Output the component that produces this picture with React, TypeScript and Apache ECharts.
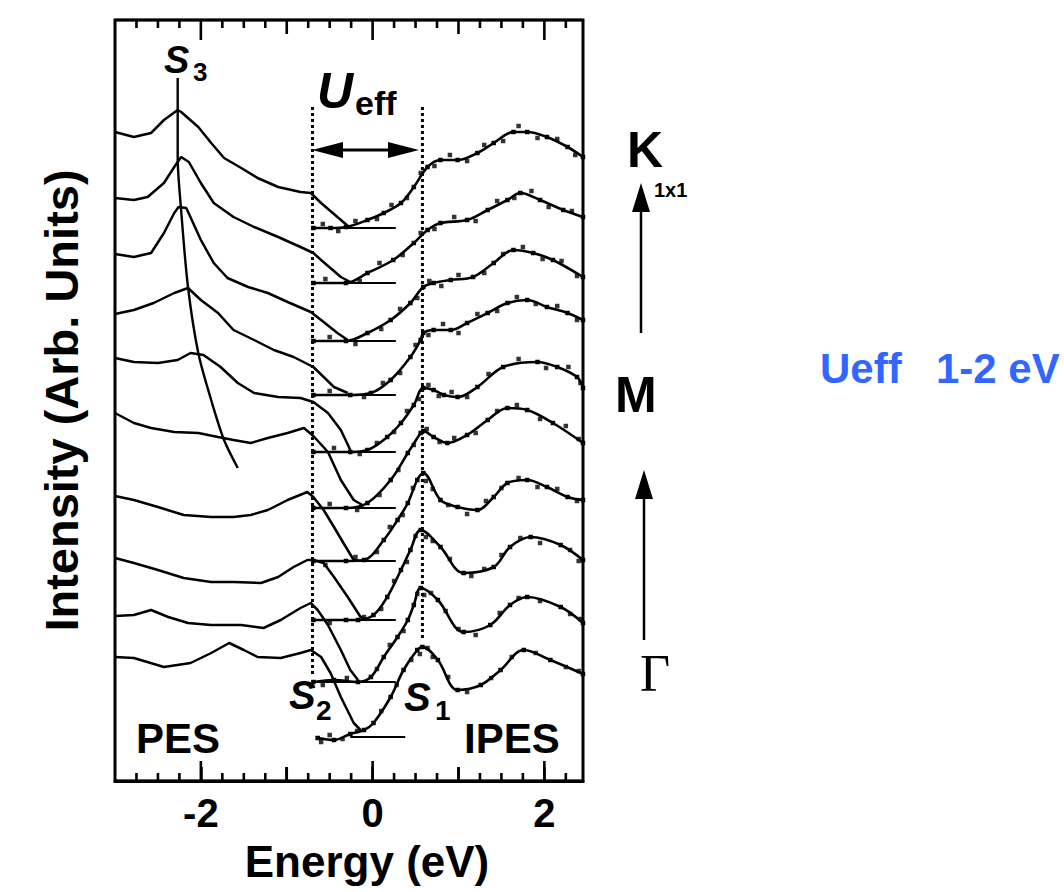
import React, { useEffect, useRef } from "react";
import * as echarts from "echarts";

// ---------- axis ----------
const xMin = -3;
const xMax = 2.45;
const yMin = 0;
const yMax = 761;
const majorTicks = [-2, 0, 2];
const mediumTicks = [-1, 1];
const minorTicks = [-2.75, -2.5, -2.25, -1.75, -1.5, -1.25, -0.75, -0.5, -0.25, 0.25, 0.5, 0.75, 1.25, 1.5, 1.75, 2.25];
const majorTickLength = 20; // intensity units (1 unit = 1 px)
const mediumTickLength = 14;
const minorTickLength = 8;

// ---------- PES spectra (top = K, bottom = Gamma) ----------
const pes1 = [[-3.0,649],[-2.78,644],[-2.58,648],[-2.43,661],[-2.27,671],[-2.23,669],[-2.03,654],[-1.88,638],[-1.73,623],[-1.53,613],[-1.34,603],[-1.1,594],[-0.84,589],[-0.72,588],[-0.6,578],[-0.41,564],[-0.26,553]];
const pes2 = [[-3.0,583],[-2.78,581],[-2.62,584],[-2.43,598],[-2.31,614],[-2.23,624],[-2.14,619],[-2.0,598],[-1.85,578],[-1.62,564],[-1.38,554],[-1.1,544],[-0.84,534],[-0.69,528],[-0.6,521],[-0.37,504],[-0.26,499]];
const pes3 = [[-3.0,527],[-2.78,524],[-2.58,528],[-2.43,548],[-2.31,568],[-2.26,574],[-2.17,573],[-2.0,541],[-1.85,518],[-1.69,503],[-1.45,494],[-1.22,488],[-0.99,479],[-0.72,469],[-0.6,461],[-0.41,448],[-0.29,441]];
const pes4 = [[-3.0,467],[-2.78,471],[-2.55,478],[-2.31,488],[-2.15,493],[-2.0,481],[-1.8,468],[-1.62,451],[-1.38,441],[-1.15,431],[-0.92,424],[-0.69,414],[-0.45,394],[-0.29,388]];
const pes5 = [[-3.0,423],[-2.78,419],[-2.5,418],[-2.27,421],[-2.12,428],[-1.97,426],[-1.77,414],[-1.57,398],[-1.38,388],[-1.1,384],[-0.84,383],[-0.69,379],[-0.52,368],[-0.37,351],[-0.26,331]];
const pes6 = [[-3.0,368],[-2.78,358],[-2.58,353],[-2.31,349],[-2.03,348],[-1.8,344],[-1.62,341],[-1.42,338],[-1.22,343],[-0.99,348],[-0.8,353],[-0.69,345],[-0.52,329],[-0.37,301],[-0.22,281],[-0.1,275]];
const pes7 = [[-3.0,285],[-2.78,281],[-2.5,274],[-2.2,266],[-1.88,264],[-1.62,264],[-1.42,266],[-1.22,271],[-0.99,281],[-0.76,289],[-0.69,284],[-0.57,271],[-0.45,254],[-0.34,238],[-0.22,221],[-0.14,220]];
const pes8 = [[-3.0,223],[-2.78,218],[-2.5,211],[-2.2,203],[-1.88,199],[-1.62,199],[-1.3,198],[-1.1,204],[-0.92,214],[-0.76,221],[-0.69,221],[-0.57,218],[-0.45,204],[-0.29,184],[-0.14,164],[-0.06,161]];
const pes9 = [[-3.0,165],[-2.78,166],[-2.58,171],[-2.38,164],[-2.15,158],[-1.88,156],[-1.53,156],[-1.27,153],[-1.07,161],[-0.84,173],[-0.72,178],[-0.64,171],[-0.52,156],[-0.37,131],[-0.26,111],[-0.17,101]];
const pes10 = [[-3.0,124],[-2.78,123],[-2.43,114],[-2.12,118],[-1.88,128],[-1.67,138],[-1.5,131],[-1.34,124],[-1.07,123],[-0.84,128],[-0.72,131],[-0.6,124],[-0.49,108],[-0.37,84],[-0.22,58],[-0.14,51]];

// ---------- IPES fitted curves ----------
const ipes1 = [[-0.69,553],[-0.49,553],[-0.31,554],[-0.06,561],[0.13,568],[0.33,578],[0.48,594],[0.64,614],[0.79,621],[0.99,621],[1.22,628],[1.41,638],[1.64,649],[1.8,649],[2.03,644],[2.27,634],[2.45,624]];
const ipes2 = [[-0.69,498],[-0.31,498],[-0.06,508],[0.24,521],[0.48,538],[0.64,551],[0.79,558],[1.1,561],[1.34,571],[1.57,581],[1.72,588],[1.95,581],[2.22,571],[2.45,564]];
const ipes3 = [[-0.69,440],[-0.31,440],[-0.06,448],[0.21,461],[0.44,478],[0.59,494],[0.71,498],[0.91,501],[1.17,504],[1.41,518],[1.64,531],[1.87,528],[2.1,521],[2.45,504]];
const ipes4 = [[-0.69,386],[-0.26,386],[-0.02,388],[0.21,401],[0.44,424],[0.56,441],[0.59,448],[0.71,451],[0.91,451],[1.1,458],[1.34,468],[1.57,478],[1.8,481],[2.03,474],[2.27,468],[2.45,461]];
const ipes5 = [[-0.69,329],[-0.26,329],[-0.06,331],[0.17,344],[0.33,358],[0.48,376],[0.59,393],[0.71,391],[0.83,386],[0.99,384],[1.22,394],[1.52,414],[1.92,419],[2.15,414],[2.38,404],[2.45,393]];
const ipes6 = [[-0.69,273],[-0.31,273],[-0.06,278],[0.21,301],[0.41,328],[0.56,348],[0.59,350],[0.71,344],[0.87,338],[1.1,346],[1.34,361],[1.57,373],[1.8,371],[2.1,358],[2.45,338]];
const ipes7 = [[-0.69,220],[-0.31,220],[-0.1,221],[0.13,241],[0.29,261],[0.41,278],[0.52,301],[0.59,308],[0.79,281],[0.99,274],[1.22,271],[1.41,284],[1.57,298],[1.8,301],[2.03,294],[2.27,284],[2.45,281]];
const ipes8 = [[-0.69,161],[-0.31,161],[-0.17,161],[0.01,166],[0.17,184],[0.33,211],[0.44,231],[0.56,251],[0.79,234],[1.06,208],[1.41,214],[1.6,234],[1.84,244],[2.19,236],[2.45,221]];
const ipes9 = [[-0.69,99],[-0.45,101],[-0.17,99],[-0.02,104],[0.13,124],[0.29,144],[0.41,161],[0.48,176],[0.56,193],[0.76,181],[1.06,149],[1.37,156],[1.6,176],[1.8,184],[2.19,174],[2.45,158]];
const ipes10 = [[-0.64,43],[-0.45,41],[-0.26,47],[-0.1,51],[0.01,58],[0.21,84],[0.36,111],[0.52,131],[0.58,134],[0.76,121],[0.99,91],[1.26,96],[1.49,111],[1.76,131],[2.07,121],[2.45,107]];

// ---------- IPES raw data points (scattered dots) ----------
const dots1 = [[-0.58,557],[-0.4,550],[-0.2,560],[0.05,562],[0.22,576],[0.4,583],[0.56,608],[0.72,615],[0.9,626],[1.1,620],[1.3,636],[1.52,640],[1.7,655],[1.92,643],[2.15,642],[2.36,626]];
const dots2 = [[-0.55,502],[-0.15,500],[0.08,518],[0.35,526],[0.56,548],[0.72,552],[0.95,564],[1.2,560],[1.45,580],[1.65,583],[1.85,590],[2.05,574],[2.32,570]];
const dots3 = [[-0.5,444],[-0.2,437],[0.1,452],[0.32,472],[0.52,483],[0.66,500],[0.8,495],[1.0,506],[1.3,508],[1.52,527],[1.75,534],[1.98,522],[2.2,520],[2.38,505]];
const dots4 = [[-0.5,390],[-0.1,384],[0.12,398],[0.32,408],[0.5,436],[0.65,446],[0.82,457],[1.0,448],[1.22,467],[1.45,470],[1.68,484],[1.9,477],[2.15,475],[2.38,461]];
const dots5 = [[-0.45,333],[-0.15,327],[0.05,338],[0.25,349],[0.4,370],[0.54,382],[0.65,396],[0.77,385],[0.92,389],[1.1,384],[1.35,407],[1.7,422],[2.02,413],[2.28,414],[2.42,398]];
const dots6 = [[-0.5,277],[-0.18,271],[0.08,286],[0.3,311],[0.48,336],[0.63,352],[0.78,339],[0.95,343],[1.2,348],[1.45,370],[1.68,376],[1.95,362],[2.25,355],[2.4,342]];
const dots7 = [[-0.55,216],[-0.2,224],[0.05,229],[0.2,254],[0.35,266],[0.47,293],[0.62,300],[0.7,292],[0.88,276],[1.1,267],[1.32,280],[1.5,293],[1.7,303],[1.92,294],[2.15,292],[2.38,280]];
const dots8 = [[-0.5,158],[-0.1,164],[0.1,172],[0.25,200],[0.4,219],[0.5,245],[0.62,244],[0.7,240],[0.9,222],[1.15,205],[1.3,212],[1.5,226],[1.72,243],[1.95,238],[2.3,231],[2.4,220]];
const dots9 = [[-0.58,96],[-0.3,103],[0.05,112],[0.2,136],[0.36,150],[0.52,187],[0.6,186],[0.68,188],[0.85,170],[1.0,152],[1.2,146],[1.48,168],[1.7,183],[1.95,180],[2.3,167],[2.42,162]];
const dots10 = [[-0.6,39],[-0.5,46],[-0.35,42],[-0.18,50],[0.1,70],[0.28,96],[0.45,121],[0.55,127],[0.64,133],[0.7,124],[0.88,104],[1.1,89],[1.38,103],[1.62,124],[1.9,128],[2.25,114],[2.4,110]];

// baseline level and span of each IPES spectrum
const baselines = [553, 498, 440, 386, 329, 273, 220, 161, 99, 44];
const baselineStarts = [-0.7, -0.7, -0.7, -0.7, -0.7, -0.7, -0.7, -0.7, -0.7, -0.26];
const baselineEnds = [0.27, 0.27, 0.27, 0.27, 0.27, 0.27, 0.27, 0.27, 0.27, 0.38];

// S3 dispersion guide and S2 / S1 dotted markers
const s3Line = [[-2.27,703],[-2.27,681],[-2.27,624],[-2.23,571],[-2.15,494],[-2.03,428],[-1.88,381],[-1.73,341],[-1.57,313]];
const s2Marker = [[-0.7,674],[-0.7,104]];
const s1Marker = [[0.58,674],[0.58,141]];

const FONT = "'Liberation Sans', Arial, Helvetica, sans-serif";

const txt = (text: string, x: number, y: number, size: number, opts: any = {}) => ({
  type: "text",
  x,
  y,
  style: {
    text,
    fontSize: size,
    fontWeight: opts.weight || "bold",
    fontStyle: opts.style || "normal",
    fontFamily: opts.family || FONT,
    fill: opts.color || "#000",
    align: opts.align || "left",
    textAlign: opts.align || "left",
    verticalAlign: "middle",
    textVerticalAlign: "middle",
  },
  silent: true,
});

// one continuous "comb" path along a frame edge, with a tooth at each tick
function buildComb(edge: number, dir: number): number[][] {
  const all: [number, number][] = [];
  majorTicks.forEach((t) => all.push([t, majorTickLength]));
  mediumTicks.forEach((t) => all.push([t, mediumTickLength]));
  minorTicks.forEach((t) => all.push([t, minorTickLength]));
  all.sort((a, b) => a[0] - b[0]);
  const pts: number[][] = [[xMin, edge]];
  all.forEach(([t, len]) => {
    pts.push([t, edge]);
    pts.push([t, edge + dir * len]);
    pts.push([t, edge]);
  });
  pts.push([xMax, edge]);
  return pts;
}

export default function App() {
  const ref = useRef<HTMLDivElement>(null);
  useEffect(() => {
    if (!ref.current) return;
    const chart = echarts.init(ref.current, null, { renderer: "svg" });
    const pesList = [pes1, pes2, pes3, pes4, pes5, pes6, pes7, pes8, pes9, pes10];
    const ipesList = [ipes1, ipes2, ipes3, ipes4, ipes5, ipes6, ipes7, ipes8, ipes9, ipes10];
    const dotsList = [dots1, dots2, dots3, dots4, dots5, dots6, dots7, dots8, dots9, dots10];
    const series: any[] = [];
    // frame ticks as two continuous comb lines (bottom and top edge)
    series.push({
      type: "line", name: "bottom ticks", data: buildComb(yMin, 1), showSymbol: false, silent: true,
      clip: false, lineStyle: { color: "#000", width: 2.6, join: "miter" }, z: 6,
    });
    series.push({
      type: "line", name: "top ticks", data: buildComb(yMax, -1), showSymbol: false, silent: true,
      clip: false, lineStyle: { color: "#000", width: 2.6, join: "miter" }, z: 6,
    });
    pesList.forEach((d, i) => {
      series.push({
        type: "line", name: "PES " + (i + 1), data: d, showSymbol: false, silent: true,
        lineStyle: { color: "#000", width: 2.5 }, z: 3,
      });
    });
    baselines.forEach((b, i) => {
      series.push({
        type: "line", name: "baseline " + (i + 1),
        data: [[baselineStarts[i], b], [baselineEnds[i], b]],
        showSymbol: false, silent: true, lineStyle: { color: "#000", width: 1.8 }, z: 3,
      });
    });
    ipesList.forEach((d, i) => {
      series.push({
        type: "line", name: "IPES fit " + (i + 1), data: d, smooth: 0.35,
        symbol: "rect", symbolSize: 4.5, showSymbol: true, silent: true,
        itemStyle: { color: "#000" }, lineStyle: { color: "#000", width: 2.6 }, z: 3,
      });
    });
    dotsList.forEach((d, i) => {
      series.push({
        type: "scatter", name: "IPES data " + (i + 1), data: d, symbol: "rect", symbolSize: 4.5,
        silent: true, itemStyle: { color: "#000" }, z: 3,
      });
    });
    series.push({
      type: "line", name: "S3", data: s3Line, smooth: 0.3, showSymbol: false, silent: true,
      lineStyle: { color: "#000", width: 2.4 }, z: 4,
    });
    [s2Marker, s1Marker].forEach((d, i) => {
      series.push({
        type: "line", name: i === 0 ? "S2 marker" : "S1 marker", data: d, showSymbol: false, silent: true,
        lineStyle: { color: "#000", width: 3, type: [3, 3] }, z: 2,
      });
    });

    const annotations: any[] = [
      // U_eff double arrow
      { type: "line", shape: { x1: 338, y1: 150, x2: 393, y2: 150 }, style: { stroke: "#000", lineWidth: 3 }, silent: true },
      { type: "polygon", shape: { points: [[312, 150], [343, 142], [343, 158]] }, style: { fill: "#000" }, silent: true },
      { type: "polygon", shape: { points: [[419, 150], [388, 142], [388, 158]] }, style: { fill: "#000" }, silent: true },
      txt("S", 164, 60, 38, { style: "italic" }),
      txt("3", 193, 72, 26),
      txt("U", 317, 91, 50, { style: "italic" }),
      txt("eff", 355, 103, 34),
      txt("S", 289, 695, 40, { style: "italic" }),
      txt("2", 316, 710, 28),
      txt("S", 404, 697, 40, { style: "italic" }),
      txt("1", 435, 710, 28),
      txt("PES", 136, 738, 42),
      txt("IPES", 464, 738, 42),
      // k-path labels
      txt("K", 627, 150, 50),
      txt("1x1", 654, 190, 20),
      { type: "line", shape: { x1: 641, y1: 333, x2: 641, y2: 205 }, style: { stroke: "#000", lineWidth: 2.5 }, silent: true },
      { type: "polygon", shape: { points: [[641, 183], [632, 212], [650, 212]] }, style: { fill: "#000" }, silent: true },
      txt("M", 615, 395, 50),
      { type: "line", shape: { x1: 644, y1: 640, x2: 644, y2: 495 }, style: { stroke: "#000", lineWidth: 2.5 }, silent: true },
      { type: "polygon", shape: { points: [[644, 470], [635, 499], [653, 499]] }, style: { fill: "#000" }, silent: true },
      txt("Γ", 655, 673, 52, { weight: "normal", family: "'Liberation Serif', 'DejaVu Serif', serif", align: "center" }),
      txt("Ueff", 820, 368, 42, { color: "#3366ff" }),
      txt("1-2 eV", 936, 368, 42, { color: "#3366ff" }),
    ];

    const option: any = {
      animation: false,
      backgroundColor: "#fff",
      grid: { left: 115, top: 20, width: 468, height: 761, show: true, borderColor: "#000", borderWidth: 3, containLabel: false },
      xAxis: {
        type: "value", position: "bottom", min: xMin, max: xMax, interval: 1,
        axisLine: { show: true, onZero: false, lineStyle: { color: "#000", width: 3 } },
        splitLine: { show: false },
        axisTick: { show: true, inside: true, length: mediumTickLength, lineStyle: { color: "#000", width: 2.5 } },
        axisLabel: {
          show: true, fontSize: 40, fontWeight: "bold", fontFamily: FONT, color: "#000", margin: 12,
          showMinLabel: false, showMaxLabel: false,
          formatter: (v: number) => (majorTicks.indexOf(v) >= 0 ? String(v) : ""),
        },
        name: "Energy (eV)", nameLocation: "middle", nameGap: 58,
        nameTextStyle: { fontSize: 44, fontWeight: "bold", fontFamily: FONT, color: "#000", padding: [0, 0, 0, 36] },
      },
      yAxis: {
        type: "value", min: yMin, max: yMax,
        axisLine: { show: false }, axisTick: { show: false }, axisLabel: { show: false }, splitLine: { show: false },
        name: "Intensity (Arb. Units)", nameLocation: "middle", nameGap: 30, nameRotate: 90,
        nameTextStyle: { fontSize: 47, fontWeight: "bold", fontFamily: FONT, color: "#000" },
      },
      series,
      graphic: annotations,
    };
    chart.setOption(option);
    return () => chart.dispose();
  }, []);
  return <div ref={ref} style={{ position: "fixed", left: 0, top: 0, width: 1064, height: 892, background: "#fff" }} />;
}
